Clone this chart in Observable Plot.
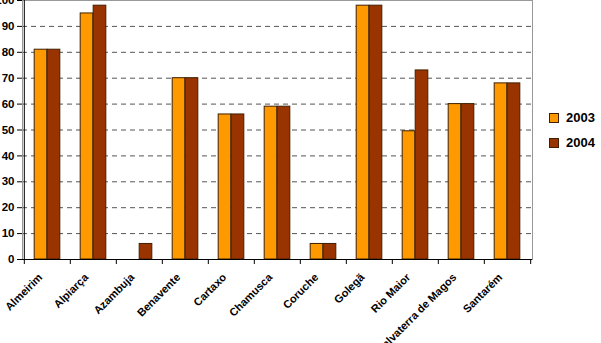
<!DOCTYPE html>
<html>
<head>
<meta charset="utf-8">
<script src="https://cdn.jsdelivr.net/npm/d3@7"></script>
<script src="https://cdn.jsdelivr.net/npm/@observablehq/plot@0.6"></script>
<style>
  body { margin: 0; background: #fff; }
  #wrap { position: relative; width: 601px; height: 343px; overflow: hidden; font-family: "Liberation Sans", Arial, sans-serif; }
  #legend { position: absolute; left: 549px; top: 105px; font-weight: bold; font-size: 13px; color: #000; }
  #legend .item { display: flex; align-items: center; height: 25px; }
  #legend .sw { width: 8px; height: 8px; border: 1px solid #402000; margin-right: 7px; }
</style>
</head>
<body>
<div id="wrap"><div id="legend"></div></div>
<script>
// Municipalities of the Lezíria/Ribatejo area
const municipalities = ["Almeirim", "Alpiarça", "Azambuja", "Benavente", "Cartaxo", "Chamusca",
  "Coruche", "Golegã", "Rio Maior", "Salvaterra de Magos", "Santarém"];
const years = ["2003", "2004"];
const values2003 = [81, 95, 0, 70, 56, 59, 6, 98, 49.5, 60, 68];
const values2004 = [81, 98, 6, 70, 56, 59, 6, 98, 73, 60, 68];
const yTicks = [0, 10, 20, 30, 40, 50, 60, 70, 80, 90, 100];
const gridTicks = [10, 20, 30, 40, 50, 60, 70, 80, 90];
const colors = ["#FF9900", "#993300"];

const rows = municipalities.flatMap((m, i) => [
  {municipality: m, year: years[0], value: values2003[i]},
  {municipality: m, year: years[1], value: values2004[i]}
]);

const W = 601, H = 343;
const mL = 22, mR = 69, mT = 0, mB = 84;
const step = (W - mL - mR) / municipalities.length;
const barW = 13;
const outer = step / 2 - barW;

// category separators sit on the band edges, below the baseline
const edges = municipalities.map((m, i) => ({m, side: -1}))
  .concat([{m: municipalities[municipalities.length - 1], side: 1}]);

const chart = Plot.plot({
  width: W,
  height: H,
  marginLeft: mL,
  marginRight: mR,
  marginTop: mT,
  marginBottom: mB,
  style: {fontFamily: "'Liberation Sans', Arial, sans-serif", fontWeight: "bold", color: "#000", background: "#fff"},
  x: {type: "band", domain: municipalities, padding: 0, label: null},
  y: {domain: [0, 100], label: null},
  marks: [
    Plot.ruleY(gridTicks, {y: d => d, stroke: "#555", strokeDasharray: "5,4", strokeWidth: 1}),
    Plot.frame({stroke: "#999"}),
    Plot.barY(rows.filter(d => d.year === years[0]), {
      x: "municipality", y: "value", fill: colors[0], stroke: "#402000", strokeWidth: 1,
      insetLeft: outer, insetRight: step / 2
    }),
    Plot.barY(rows.filter(d => d.year === years[1]), {
      x: "municipality", y: "value", fill: colors[1], stroke: "#402000", strokeWidth: 1,
      insetLeft: step / 2, insetRight: outer
    }),
    Plot.ruleX(edges.filter(d => d.side < 0), {x: "m", dx: -step / 2, y1: d => 0, y2: d => 0, insetBottom: -5, stroke: "#000"}),
    Plot.ruleX(edges.filter(d => d.side > 0), {x: "m", dx: step / 2, y1: d => 0, y2: d => 0, insetBottom: -5, stroke: "#000"}),
    Plot.ruleY([0], {stroke: "#000"}),
    Plot.ruleX([municipalities[0]], {x: d => d, dx: -step / 2, y1: d => 0, y2: d => 100, stroke: "#000"}),
    Plot.axisY({ticks: yTicks, tickSize: 5, tickPadding: 3, fontSize: 11.5, fontWeight: "bold"}),
    Plot.axisX({tickSize: 0, tickRotate: -45, tickPadding: 16, dx: -7, fontSize: 11, fontWeight: "bold"})
  ]
});

const wrap = document.getElementById("wrap");
wrap.insertBefore(chart, wrap.firstChild);

const legend = document.getElementById("legend");
years.forEach((y, i) => {
  const item = document.createElement("div");
  item.className = "item";
  const sw = document.createElement("span");
  sw.className = "sw";
  sw.style.background = colors[i];
  const label = document.createElement("span");
  label.textContent = y;
  item.appendChild(sw);
  item.appendChild(label);
  legend.appendChild(item);
});
</script>
</body>
</html>
